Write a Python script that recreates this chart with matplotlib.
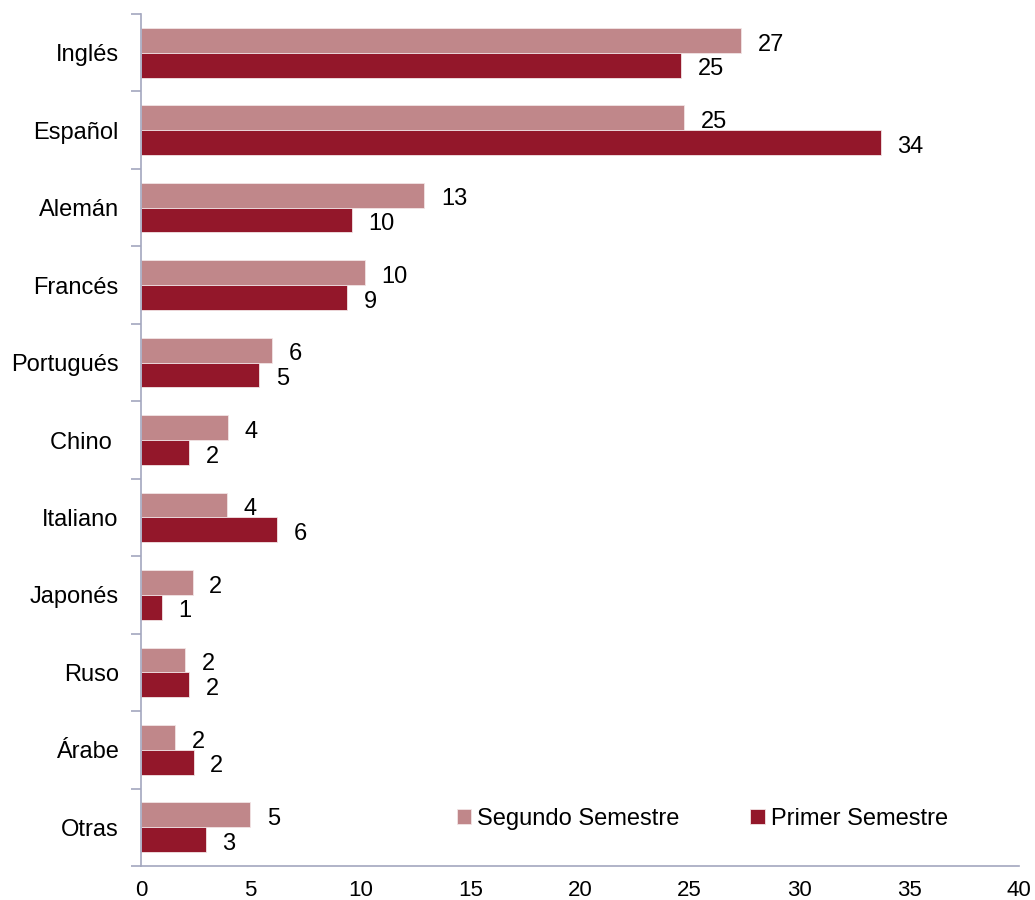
import matplotlib
matplotlib.use("Agg")
from matplotlib import pyplot as plt
import numpy as np

plt.rcParams['font.family'] = ['Liberation Sans', 'DejaVu Sans']

# data (bars carry unrounded values)
idiomas = ['Inglés', 'Español', 'Alemán', 'Francés', 'Portugués', 'Chino ',
           'Italiano', 'Japonés', 'Ruso', 'Árabe', 'Otras']
segundo = [27.35, 24.75, 12.9, 10.2, 5.97, 3.95, 3.9, 2.35, 2.0, 1.55, 4.97]
primer = [24.6, 33.7, 9.6, 9.4, 5.4, 2.2, 6.2, 0.95, 2.2, 2.4, 2.95]

COL_SEG = '#C0878A'
COL_PRI = '#93172A'
AXIS_COL = '#A3A7BF'

fig = plt.figure(figsize=(10.35, 9), dpi=100)
ax = fig.add_axes([0.1362, 0.0378, 0.8483, 0.9466])

n = len(idiomas)
y = np.arange(n)
h = 0.32

bars_seg = ax.barh(y - h / 2, segundo, height=h, color=COL_SEG,
                   edgecolor='#F2E4E5', linewidth=0.6, label='Segundo Semestre')
bars_pri = ax.barh(y + h / 2, primer, height=h, color=COL_PRI,
                   edgecolor='#F2E4E5', linewidth=0.6, label='Primer Semestre')

# value labels, rounded like the original, a bit below the bar centre
for bars in (bars_seg, bars_pri):
    for b in bars:
        w = b.get_width()
        ax.annotate('%.0f' % w, (w, b.get_y() + b.get_height() / 2),
                    xytext=(12, -3), textcoords='offset points',
                    ha='left', va='center', fontsize=17, color='black')

ax.set_ylim(n - 0.5, -0.5)
ax.set_xlim(0, 40)
ax.set_xticks(range(0, 41, 5))
ax.set_yticks(y)
ax.set_yticklabels(idiomas)
ax.set_yticks(np.arange(-0.5, n, 1), minor=True)

ax.tick_params(axis='y', which='major', length=0, pad=16, labelsize=17)
ax.tick_params(axis='y', which='minor', length=7, width=1.2, color=AXIS_COL)
ax.tick_params(axis='x', length=0, pad=10, labelsize=16)

for s in ('top', 'right'):
    ax.spines[s].set_visible(False)
for s in ('left', 'bottom'):
    ax.spines[s].set_color(AXIS_COL)
    ax.spines[s].set_linewidth(1.2)

leg = ax.legend(loc='center left', bbox_to_anchor=(0.336, 0.0555), ncol=2,
                frameon=False, fontsize=17, handlelength=0.6, handleheight=0.6,
                handletextpad=0.25, columnspacing=3.0)

fig.savefig('out.png', dpi=100)
